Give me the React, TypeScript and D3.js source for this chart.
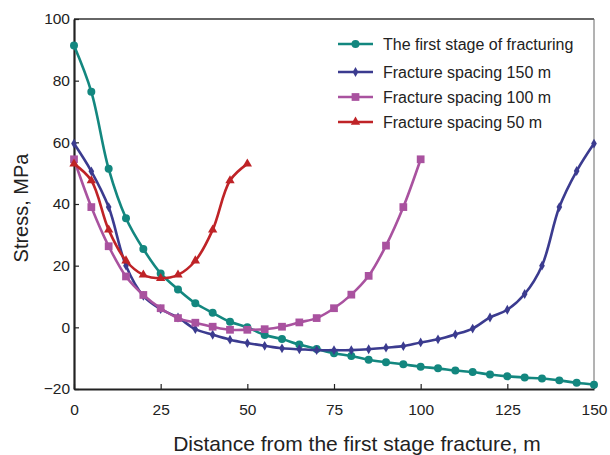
import React, { useEffect, useRef } from "react";
import * as d3 from "d3";

// x positions (m) - every 5 m
const firstStage = [91.4, 76.4, 51.4, 35.4, 25.4, 17.5, 12.3, 7.8, 4.7, 1.8, 0, -2.5, -3.8, -5.6, -7, -8.4, -9.3, -10.5, -11.3, -12, -12.8, -13.3, -14, -14.5, -15.3, -15.9, -16.3, -16.6, -17.2, -18, -18.6];
const spacing150 = [59.6, 50.6, 39, 20, 10.2, 5.9, 3.2, -0.6, -2.4, -4, -5.1, -6, -6.8, -7.1, -7.4, -7.4, -7.4, -7.1, -6.6, -6.1, -4.9, -3.9, -2.3, -0.4, 3.2, 5.7, 10.8, 20, 39, 50.7, 59.6];
const spacing100 = [54.5, 39, 26.3, 16.5, 10.5, 6.2, 3, 1.5, 0.2, -0.8, -0.8, -0.6, 0.2, 1.6, 3, 6.2, 10.6, 16.7, 26.5, 39, 54.5];
const spacing50 = [53, 47.6, 31.6, 21.6, 17, 15.9, 17, 21.6, 31.6, 47.6, 53];

const xTicks = [0, 25, 50, 75, 100, 125, 150];
const yTicks = [-20, 0, 20, 40, 60, 80, 100];

const seriesNames = [
  "The first stage of fracturing",
  "Fracture spacing 150 m",
  "Fracture spacing 100 m",
  "Fracture spacing 50 m",
];
const colors = ["#13877f", "#3b3b8f", "#a9529f", "#bf2327"];

export default function App() {
  const ref = useRef<SVGSVGElement>(null);

  useEffect(() => {
    const svg = d3.select(ref.current);
    svg.selectAll("*").remove();

    const left = 74, right = 594, top = 19, bottom = 389;
    const x = d3.scaleLinear().domain([0, 150]).range([left, right]);
    const y = d3.scaleLinear().domain([-20, 100]).range([bottom, top]);

    const font = "Liberation Sans, Arial, sans-serif";

    // frame
    svg.append("line").attr("x1", left).attr("x2", right).attr("y1", top).attr("y2", top)
      .attr("stroke", "#333").attr("stroke-width", 1.5);
    svg.append("line").attr("x1", right).attr("x2", right).attr("y1", top).attr("y2", bottom)
      .attr("stroke", "#666").attr("stroke-width", 1);

    const xAxis = svg.append("g").attr("transform", `translate(0,${bottom})`)
      .call(d3.axisBottom(x).tickValues(xTicks).tickSizeInner(-5).tickSizeOuter(0).tickPadding(15));
    const yAxis = svg.append("g").attr("transform", `translate(${left},0)`)
      .call(d3.axisLeft(y).tickValues(yTicks).tickSizeInner(-5).tickSizeOuter(0).tickPadding(4)
        .tickFormat((d) => (+d < 0 ? "\u2212" + Math.abs(+d) : String(d))));
    [xAxis, yAxis].forEach((ax) => {
      ax.select(".domain").attr("stroke", "#222").attr("stroke-width", 2.2);
      ax.selectAll(".tick line").attr("stroke", "#222").attr("stroke-width", 1.2);
      ax.selectAll(".tick text").attr("font-family", font).attr("font-size", 15.5).attr("fill", "#222");
    });

    svg.append("text").attr("x", 357).attr("y", 451).attr("text-anchor", "middle")
      .attr("font-family", font).attr("font-size", 21).attr("fill", "#222")
      .text("Distance from the first stage fracture, m");
    svg.append("text").attr("transform", "translate(28,208) rotate(-90)").attr("text-anchor", "middle")
      .attr("font-family", font).attr("font-size", 20).attr("fill", "#222")
      .text("Stress, MPa");

    const allSeries = [firstStage, spacing150, spacing100, spacing50];
    const line = d3.line<number>().x((_, i) => x(i * 5)).y((d) => y(d)).curve(d3.curveCatmullRom.alpha(0.5));

    const symbols = [
      d3.symbol().type(d3.symbolCircle).size(50),
      d3.symbol().type(d3.symbolDiamond).size(28),
      d3.symbol().type(d3.symbolSquare).size(60),
      d3.symbol().type(d3.symbolTriangle).size(38),
    ];

    allSeries.forEach((data, s) => {
      svg.append("path").datum(data).attr("d", line).attr("fill", "none")
        .attr("stroke", colors[s]).attr("stroke-width", 2.6);
      svg.append("g").selectAll("path").data(data).join("path")
        .attr("d", symbols[s]() as string)
        .attr("transform", (d, i) => `translate(${x(i * 5)},${y(d)})`)
        .attr("fill", colors[s]);
    });

    // legend
    const legend = svg.append("g");
    const rows = [44, 72, 97, 122];
    seriesNames.forEach((name, s) => {
      const g = legend.append("g").attr("transform", `translate(0,${rows[s]})`);
      g.append("line").attr("x1", 338).attr("x2", 373).attr("stroke", colors[s]).attr("stroke-width", 2.6);
      g.append("path").attr("d", symbols[s]() as string).attr("transform", "translate(355.5,0)").attr("fill", colors[s]);
      g.append("text").attr("x", 383).attr("y", 5.5).attr("font-family", font).attr("font-size", 16)
        .attr("fill", "#222").text(name);
    });
  }, []);

  return (
    <svg ref={ref} width={610} height={455} style={{ position: "absolute", left: 0, top: 0 }} />
  );
}
